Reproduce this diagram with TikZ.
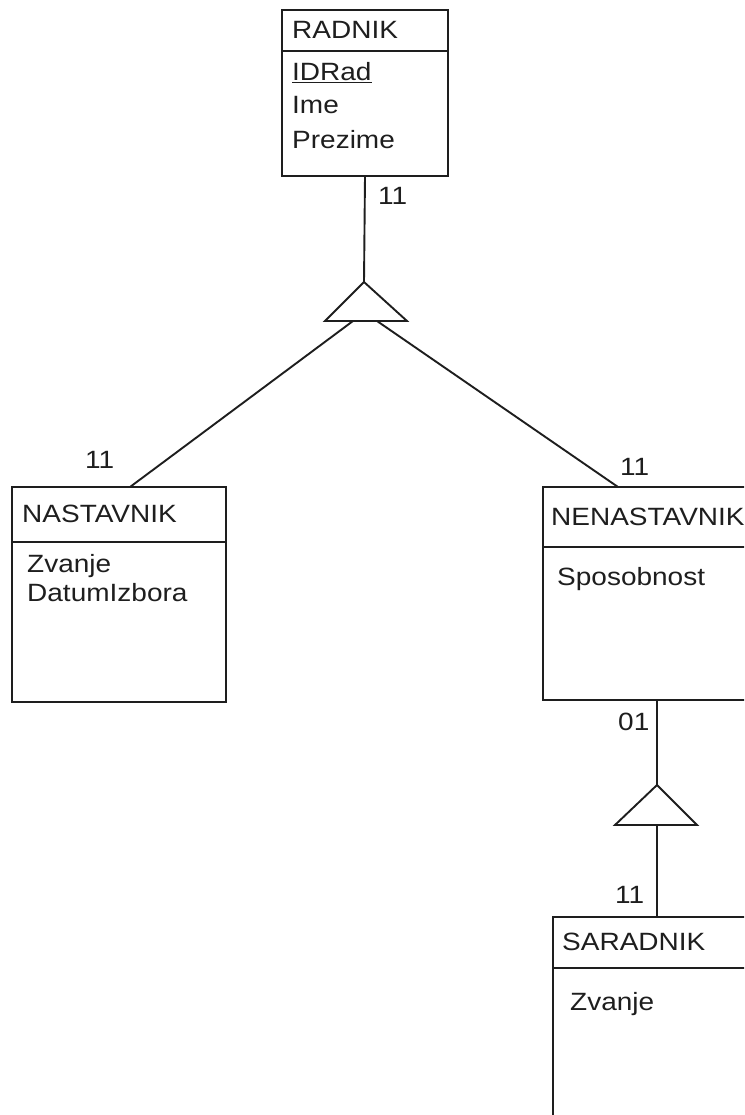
\documentclass[tikz,border=0pt]{standalone}
\usepackage{fontspec}
\setmainfont{Liberation Sans}[FakeStretch=1.12]
\definecolor{ink}{HTML}{1E1E1E}
\begin{document}
\begin{tikzpicture}[x=1pt,y=-1pt,
  ent/.style={draw=ink, line width=1.9pt, rectangle, anchor=north west,
              inner sep=0pt, outer sep=0pt},
  txt/.style={anchor=base west, inner sep=0pt, text=ink,
              font=\fontsize{25}{30}\selectfont},
  lnk/.style={draw=ink, line width=1.9pt}]
\useasboundingbox (0,0) rectangle (744,1115);
\clip (0,0) rectangle (744,1115);

% entity boxes
\node[ent, minimum width=166pt, minimum height=166pt] (rad) at (282,10) {};
\node[ent, minimum width=214pt, minimum height=215pt] (nas) at (12,487) {};
\node[ent, minimum width=240pt, minimum height=213pt] (nen) at (543,487) {};
\node[ent, minimum width=240pt, minimum height=230pt] (sar) at (553,917) {};

% header separators
\draw[lnk] ([yshift=-41pt]rad.north west) -- ([yshift=-41pt]rad.north east);
\draw[lnk] ([yshift=-55pt]nas.north west) -- ([yshift=-55pt]nas.north east);
\draw[lnk] ([yshift=-60pt]nen.north west) -- ([yshift=-60pt]nen.north east);
\draw[lnk] ([yshift=-51pt]sar.north west) -- ([yshift=-51pt]sar.north east);

% entity names and attributes
\node[txt] (radT) at (292,39) {RADNIK};
\node[txt] (radA1) at (292,81) {\underline{IDRad}};
\node[txt] (radA2) at (292,114) {Ime};
\node[txt] (radA3) at (292,149) {Prezime};

\node[txt] (nasT) at (22,522) {NASTAVNIK};
\node[txt] (nasA1) at (27,572) {Zvanje};
\node[txt] (nasA2) at (27,601) {DatumIzbora};

\node[txt] (nenT) at (551,525) {NENASTAVNIK};
\node[txt] (nenA1) at (557,585) {Sposobnost};

\node[txt] (sarT) at (562,950) {SARADNIK};
\node[txt] (sarA1) at (570,1010) {Zvanje};

% specialization triangles
\coordinate (t1a) at (364,282);
\coordinate (t1l) at (325,321);
\coordinate (t1r) at (407,321);
\coordinate (t1p) at (353,321);
\coordinate (t1q) at (377,321);
\draw[lnk, line join=miter] (t1a) -- (t1l) -- (t1r) -- cycle;

\coordinate (t2a) at (657,785);
\coordinate (t2l) at (615,825);
\coordinate (t2r) at (697,825);
\coordinate (t2m) at (657,825);
\draw[lnk, line join=miter] (t2a) -- (t2l) -- (t2r) -- cycle;

% connectors
\coordinate (nasIn) at (130,487);
\coordinate (nenIn) at (618,487);
\draw[lnk] (rad.south) -- (t1a);
\draw[lnk] (t1p) -- (nasIn);
\draw[lnk] (t1q) -- (nenIn);
\draw[lnk] (t2a |- nen.south) -- (t2a);
\draw[lnk] (t2m) -- (t2m |- sar.north);

% cardinalities
\node[txt] (c1) at (378,205) {11};
\node[txt] (c2) at (85,468) {11};
\node[txt] (c3) at (620,475) {11};
\node[txt] (c4) at (618,730) {01};
\node[txt] (c5) at (615,903) {11};
\end{tikzpicture}
\end{document}
